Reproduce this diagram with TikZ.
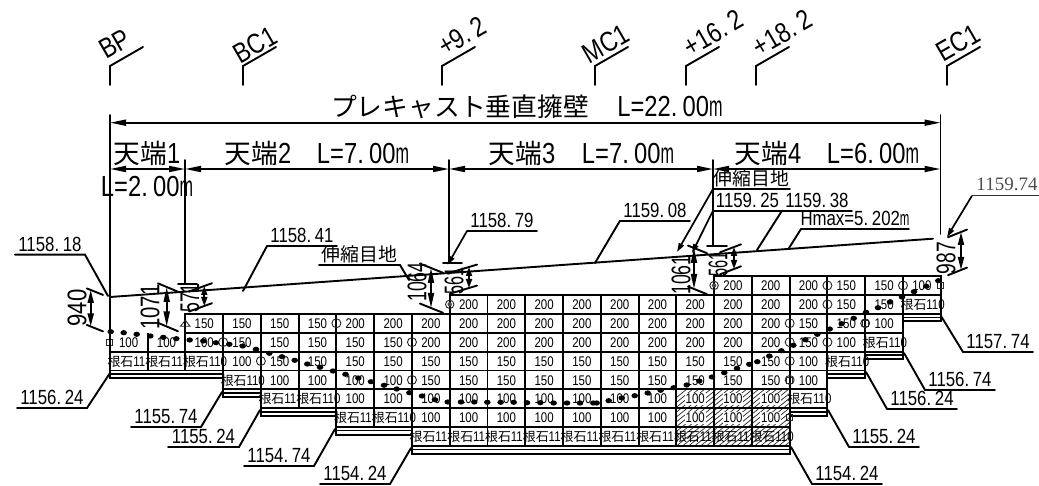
\documentclass[tikz,border=0pt]{standalone}
\usepackage{fontspec}
\setmainfont{Liberation Sans}[FakeStretch=0.82]
\newfontfamily\cjf[Scale=0.92]{Noto Sans CJK JP}
\newfontfamily\srf{Liberation Serif}
\usetikzlibrary{arrows.meta}
\newcommand\pd{.\kern.18em}
\newcommand\mm{\scalebox{.68}[1]{m}}
\newcommand\jp[1]{{\cjf #1}}
\newcommand\fsz[1]{\fontsize{#1}{#1}\selectfont}
\newcommand\gx[1]{109.8+37.77*(#1)}
\newcommand\gy[1]{276+18.9*(#1)}
\newcommand\nar[2]{\scalebox{#1}[1]{#2}}
\tikzset{
  x=1pt,y=-1pt,
  ln/.style={line width=1.9pt,line cap=round},
  grid ln/.style={line width=1.9pt},
  tipped/.style={line width=1.8pt,{Stealth[inset=0pt,length=#1,width=6pt]}-{Stealth[inset=0pt,length=#1,width=6pt]}},
  end tip/.style={line width=1.7pt,-{Stealth[inset=0pt,length=9pt,width=5.5pt]}},
  big/.style={inner sep=0pt,anchor=base,font=\fsz{29}},
  mid/.style={inner sep=0pt,anchor=base,font=\fsz{20.5}},
  cell/.style={inner sep=0pt,anchor=base,font=\fsz{14},text=black},
  dimtxt/.style={inner sep=0pt,rotate=90,anchor=center,font=\fsz{27}},
  sta/.style={inner sep=0pt,rotate=30,anchor=center,font=\fsz{28}},
  sym/.style={line width=.9pt,draw=black!85},
  soil/.style={fill=black},
}
% leader with knee at the left end of the underline
\newcommand\ldrL[8][ln]{%
  \node[mid] (#2) at ({(#3+#4)/2},{#5-3.5}) {#6};
  \coordinate (#2a) at (#3,#5); \coordinate (#2b) at (#4,#5); \coordinate (#2t) at (#7,#8);
  \draw[ln] (#2a) -- (#2b);
  \draw[#1] (#2a) -- (#2t);}
% leader with knee at the right end of the underline
\newcommand\ldrR[7]{%
  \node[mid] (#1) at ({(#2+#3)/2},{#4-3.5}) {#5};
  \coordinate (#1a) at (#2,#4); \coordinate (#1b) at (#3,#4); \coordinate (#1t) at (#6,#7);
  \draw[ln] (#1a) -- (#1b) -- (#1t);}
% vertical dimension: name,x,ya,yb,xl,xr,slope,tip length
\newcommand\dimmark[8]{%
  \coordinate (#1a) at (#2,#3); \coordinate (#1b) at (#2,#4);
  \coordinate (#1al) at (#5,{#3+(#5-#2)*(#7)}); \coordinate (#1ar) at (#6,{#3+(#6-#2)*(#7)});
  \coordinate (#1bl) at (#5,{#4+(#5-#2)*(#7)}); \coordinate (#1br) at (#6,{#4+(#6-#2)*(#7)});
  \draw[tipped=#8] (#1a) -- (#1b);
  \draw[ln] (#1al) -- (#1ar); \draw[ln] (#1bl) -- (#1br);}
\begin{document}
\begin{tikzpicture}
\useasboundingbox (0,0) rectangle (1039,486);
% hatching
\begin{scope}
  \clip ({\gx{15}},{\gy{6}}) rectangle ({\gx{18}},{\gy{9}});
  \foreach \k in {0,6,...,240} \draw[line width=.7pt,black!85] ({\gx{15}+\k-60},{\gy{9}}) -- ({\gx{15}+\k+20},{\gy{6}-8});
\end{scope}
% grid cells: column / top row / bottom row
\foreach \c/\t/\b in {0/3/5,1/3/5,2/2/5,3/2/6,4/2/7,5/2/7,6/2/8,7/2/8,8/2/9,9/1/9,10/1/9,11/1/9,12/1/9,13/1/9,14/1/9,15/1/9,16/0/9,17/0/9,18/0/7,19/0/5,20/0/4,21/0/2}{
  \pgfmathtruncatemacro\bm{\b-1}
  \foreach \r in {\t,...,\bm}{
    \ifnum\c<2 \ifnum\r=3
      \draw[grid ln] ({\gx{\c}},{\gy{\r}}) -- ({\gx{\c}},{\gy{\r+1}}) -- ({\gx{\c+1}},{\gy{\r+1}}) -- ({\gx{\c+1}},{\gy{\r}});
    \else
      \draw[grid ln] ({\gx{\c}},{\gy{\r}}) rectangle ({\gx{\c+1}},{\gy{\r+1}});
    \fi\else
      \draw[grid ln] ({\gx{\c}},{\gy{\r}}) rectangle ({\gx{\c+1}},{\gy{\r+1}});
    \fi
  }
}
% base slabs: col from / col to / row
\foreach \a/\e/\r in {0/3/5,3/4/6,4/6/7,6/8/8,8/18/9,18/19/7,19/20/5,20/21/4,21/22/2}{
  \draw[grid ln] ({\gx{\a}},{\gy{\r}}) -- ({\gx{\a}},{\gy{\r}+7.5}) -- ({\gx{\e}},{\gy{\r}+7.5}) -- ({\gx{\e}},{\gy{\r}});
  \draw[line width=1.5pt] ({\gx{\a}},{\gy{\r}+3.5}) -- ({\gx{\e}},{\gy{\r}+3.5});
}
% plain values: col / row / text
\foreach \c/\r/\s in {
 2/2/150,3/2/150,4/2/150,5/2/150,6/2/200,7/2/200,8/2/200,
 9/1/200,10/1/200,11/1/200,12/1/200,13/1/200,14/1/200,15/1/200,16/1/200,17/1/200,18/1/200,19/1/150,20/1/150,
 16/0/200,17/0/200,18/0/200,19/0/150,20/0/150,21/0/100,
 9/2/200,10/2/200,11/2/200,12/2/200,13/2/200,14/2/200,15/2/200,16/2/200,17/2/200,18/2/150,19/2/150,20/2/100,
 0/3/100,1/3/100,2/3/100,3/3/150,4/3/150,5/3/150,6/3/150,7/3/150,8/3/200,9/3/200,10/3/200,11/3/200,12/3/200,13/3/200,14/3/200,15/3/200,16/3/200,17/3/200,18/3/150,19/3/100,
 3/4/100,4/4/150,5/4/150,6/4/150,7/4/150,8/4/150,9/4/150,10/4/150,11/4/150,12/4/150,13/4/150,14/4/150,15/4/150,16/4/150,17/4/150,18/4/100,
 4/5/100,5/5/100,6/5/100,7/5/100,8/5/150,9/5/150,10/5/150,11/5/150,12/5/150,13/5/150,14/5/150,15/5/150,16/5/150,17/5/150,18/5/100,
 6/6/100,7/6/100,8/6/100,9/6/100,10/6/100,11/6/100,12/6/100,13/6/100,14/6/100,
 8/7/100,9/7/100,10/7/100,11/7/100,12/7/100,13/7/100,14/7/100}{
  \node[cell,anchor=base] (v\c-\r) at ({\gx{\c+.5}},{\gy{\r+1}-4.4}) {\s};
}
% hatched values
\foreach \c in {15,16,17} \foreach \r in {6,7}{
  \node[cell,fill=white,inner sep=.8pt] (h\c-\r) at ({\gx{\c+.5}},{\gy{\r+1}-4.4}) {100};
}
% footing labels: col / row / text
\foreach \c/\r/\s in {0/4/11,1/4/11,2/4/110,3/5/110,4/6/11,5/6/110,6/7/11,7/7/110,8/8/11,9/8/11,10/8/11,11/8/11,12/8/11,13/8/11,14/8/11,15/8/11,16/8/11,17/8/110,18/6/110,19/4/110,20/3/110,21/1/110}{
  \node[cell,anchor=base west] (f\c-\r) at ({\gx{\c}-2.5},{\gy{\r+1}-4.4}) {\jp{根石}\s};
}
% station marks on cell joints: circles
\foreach \c/\r in {5/2,7/3,2/3,3/4,7/5,17/2,17/3,17/4,17/5,18/0,18/1,18/3,19/2,20/0}{
  \pgfmathtruncatemacro\cc{\c+1}
  \draw[sym] ({\gx{\cc}},{\gy{\r+.5}}) circle (4.5);
}
\foreach \c/\r in {9/1,16/0}{
  \draw[sym] ({\gx{\c}},{\gy{\r+.5}}) circle (4.2); \fill[black!70] ({\gx{\c}},{\gy{\r+.5}}) circle (2.2);
}
\draw[sym] (180.5,{\gy{2.5}+3}) -- (185.3,{\gy{2.5}-3}) -- (190,{\gy{2.5}+3}) -- cycle;
\foreach \c/\r in {0/3,22/0,20/2,18/5,18/7}{
  \draw[sym] ({\gx{\c}-3},{\gy{\r+.5}-3}) rectangle ({\gx{\c}+3},{\gy{\r+.5}+3});
}
% soil line
\foreach \p/\q in {110.7/331.7,123.7/332.7,136.7/334.3,150.3/336,163.3/337.3,176.3/338.7,189.7/340,203.3/341,216/342.7,229.3/344.3,242.7/346,256/349.3,269.3/353.3,282/356.7,294.7/360.3,307.3/364,320/367.3,333/371,345.5/374.3,358.3/378,371/381.7,384/385.3,396.7/389,409.3/392.7,422/396,435/399.7,447.7/402,461/402,474.3/402,487.3/402.3,500.7/402.3,513.7/402.3,527/402.7,540.3/402.7,553.7/403,567/403,580/403,593.3/403,596.7/403,608.7/400.7,621.7/398,634.7/395.7,647.7/393,660.7/390.3,673.7/387.7,686.7/385,699.3/381,712/377,724.3/372.7,737/368.3,749.3/364.3,757.3/361.7,769.3/356,781.3/350.7,793.3/345.3,805.3/339.7,817.3/334.3,829.7/329,841.7/323.7,853.7/318.3,866/312.3,878/307.7,890/302,902/297,914/291.7,926.3/286.3,938.3/280.7}{
  \fill[soil] (\p,\q) ellipse (3.3 and 2.6);
}
% extension lines
\draw[ln] (110,115) -- (110,373);
\draw[ln] (940.5,115) -- (940.5,234);
\draw[ln] (185,160) -- (185,284) (178,284) -- (197,284);
\draw[ln] (449,160) -- (449,263) (443,263) -- (462,263);
\draw[ln] (713,160) -- (713,246) (707,246) -- (727,246);
% top surface
\coordinate (s0) at (110,297); \coordinate (s1) at (933,238.7);
\draw[ln] (s0) -- (s1);
% station flags
\foreach \n/\x in {bp/110,bc/243,p9/442,mc/595,ps/686,pe/756,ec/947}{
  \coordinate (\n0) at (\x,85); \coordinate (\n1) at (\x,66); \coordinate (\n2) at (\x+33,47);
  \draw[ln] (\n0) -- (\n1) -- (\n2);
}
\node[sta] (tbp) at (115,44) {BP};
\node[sta] (tbc) at (255,45) {BC1};
\node[sta] (tp9) at (462,36) {+9\pd2};
\node[sta] (tmc) at (606,44) {MC1};
\node[sta] (tps) at (713,33) {+16\pd2};
\node[sta] (tpe) at (782,33) {+18\pd2};
\node[sta] (tec) at (958,43) {EC1};
% overall dimensions
\coordinate (da) at (110,122.7); \coordinate (db) at (940.5,122.7);
\draw[tipped=16pt] (da) -- (db);
\coordinate (e0) at (110,169); \coordinate (e1) at (185,169); \coordinate (e2) at (449,169); \coordinate (e3) at (713,169); \coordinate (e4) at (940.5,169);
\draw[tipped=16pt] (e0) -- (e1);
\draw[tipped=16pt] (e1) -- (e2);
\draw[tipped=16pt] (e2) -- (e3);
\draw[tipped=16pt] (e3) -- (e4);
\node[big,font=\fsz{28}] (ttitle) at (460,116.5) {\jp{プレキャスト垂直擁壁}};
\node[big] (tl22) at (670,116.5) {L=22\pd 00\mm};
\node[big] (t1) at (147,163.5) {\jp{天端}1};
\node[big] (t1l) at (147,196.5) {L=2\pd 00\mm};
\node[big] (t2) at (258,163.5) {\jp{天端}2};
\node[big] (t2l) at (363,163.5) {L=7\pd 00\mm};
\node[big] (t3) at (522,163.5) {\jp{天端}3};
\node[big] (t3l) at (628,163.5) {L=7\pd 00\mm};
\node[big] (t4) at (768,163.5) {\jp{天端}4};
\node[big] (t4l) at (873,163.5) {L=6\pd 00\mm};
% leaders above
\ldrR{l1}{15}{85}{254.7}{1158\pd 18}{108}{296}
\ldrL{l2}{267}{337}{246}{1158\pd 41}{243}{291}
\ldrR{l3}{319}{400}{265}{\jp{伸縮目地}}{409}{280}
\ldrL[end tip]{l4}{467}{537}{231}{1158\pd 79}{447.5}{265}
\ldrL{l5}{620}{690}{220.7}{1159\pd 08}{595}{263}
\ldrL[end tip]{l6}{713}{790}{189}{\jp{伸縮目地}}{677}{252}
\ldrL[end tip]{l7}{713}{782}{210.7}{1159\pd 25}{692}{253}
\ldrL{l8}{782}{852}{210.7}{1159\pd 38}{757}{250}
\ldrL{l9}{801}{909}{229}{Hmax=5\pd 202\mm}{789}{248}
\node[mid,font=\srf\fsz{19},text=black!70] (l10) at (1007,191) {1159.74};
\coordinate (l10a) at (972,195.7); \coordinate (l10b) at (1039,195.7); \coordinate (l10t) at (947,237);
\draw[line width=1.2pt,black!80] (l10a) -- (l10b);
\draw[end tip] (l10a) -- (l10t);
% leaders below
\ldrR{b1}{17}{87}{408}{1156\pd 24}{110}{373}
\ldrR{b2}{131}{201}{427}{1155\pd 74}{222}{392}
\ldrR{b3}{168}{239}{447}{1155\pd 24}{260}{410}
\ldrR{b4}{244}{314}{466}{1154\pd 74}{335}{429}
\ldrR{b5}{320}{390}{484}{1154\pd 24}{411}{448}
\ldrL{r1}{963}{1033}{352}{1157\pd 74}{941}{316}
\ldrL{r2}{925}{995}{390}{1156\pd 74}{904}{353}
\ldrL{r3}{887}{957}{409}{1156\pd 24}{866}{372}
\ldrL{r4}{849}{919}{447}{1155\pd 24}{828}{410}
\ldrL{r5}{812}{882}{484}{1154\pd 24}{791}{447}
% vertical dimensions
\dimmark{d1}{90.7}{290}{326.5}{86.7}{103}{.4}{13pt}
\dimmark{d2}{166.7}{287}{326.5}{158}{178}{.42}{15pt}
\dimmark{d3}{204.3}{286}{306}{189}{212}{-.36}{9pt}
\dimmark{d4}{431}{268}{308}{420}{443}{.4}{15pt}
\dimmark{d5}{469}{267}{288}{450}{477}{-.3}{9pt}
\dimmark{d6}{694}{248}{289}{688}{707}{.4}{15pt}
\dimmark{d7}{734}{247}{269}{720}{741}{-.38}{9pt}
\dimmark{d8}{961}{232}{270}{948}{967}{-.4}{13pt}
\node[dimtxt] (n1) at (77,308) {940};
\node[dimtxt] (n2) at (150,307) {\nar{.92}{1071}};
\node[dimtxt] (n3) at (190,298) {\nar{.8}{571}};
\node[dimtxt] (n4) at (417,282) {\nar{.8}{1064}};
\node[dimtxt] (n5) at (454,281) {\nar{.73}{561}};
\node[dimtxt] (n6) at (681,275) {\nar{.8}{1061}};
\node[dimtxt] (n7) at (718,264) {\nar{.65}{561}};
\node[dimtxt] (n8) at (946,258) {\nar{.87}{987}};
\end{tikzpicture}
\end{document}
